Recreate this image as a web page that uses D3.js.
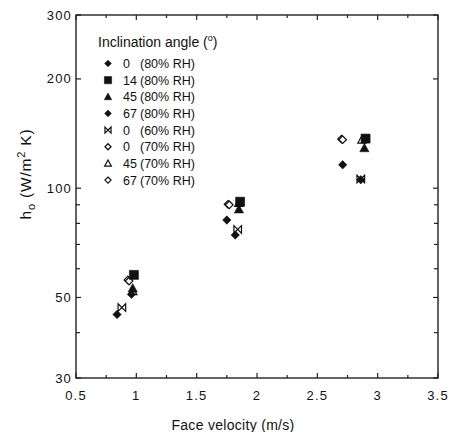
<!DOCTYPE html>
<html>
<head>
<meta charset="utf-8">
<script src="https://cdn.jsdelivr.net/npm/d3@7"></script>
<style>
  body { margin: 0; background: #fff; }
  text { font-family: "Liberation Sans", Arial, sans-serif; fill: #111; }
</style>
</head>
<body>
<div id="chart"></div>
<script>
// Data
const seriesNames = ['0', '14', '45', '67', '0', '0', '45', '67']
const seriesRH = ['(80% RH)', '(80% RH)', '(80% RH)', '(80% RH)', '(60% RH)', '(70% RH)', '(70% RH)', '(70% RH)']
const seriesMarkers = ['diamondFill', 'square', 'triangleFill', 'diamondFill', 'bowtie', 'diamondOpen', 'triangleOpen', 'diamondOpen']

const velocity = [
  [0.84, 1.82, 2.86],
  [0.98, 1.86, 2.90],
  [0.97, 1.85, 2.89],
  [0.96, 1.75, 2.71],
  [0.88, 1.84, 2.86],
  [0.93, 1.76, 2.70],
  [0.97, 1.85, 2.87],
  [0.94, 1.77, 2.71],
]
const hValues = [
  [44.9, 74.3, 105.5],
  [57.7, 91.8, 137],
  [53, 87.5, 129],
  [51, 81.7, 116],
  [46.9, 77, 106],
  [55.9, 90.3, 136.6],
  [52, 91, 136],
  [55.5, 90, 136],
]

const xTicks = [0.5, 1, 1.5, 2, 2.5, 3, 3.5]
const xMinorTicks = [0.75, 1.25, 1.75, 2.25, 2.75, 3.25]
const yTicks = [30, 50, 100, 200, 300]
const yMinorTicks = [40, 60, 70, 80, 90]

// Dimensions
const dimensions = {
  width: 458,
  height: 432,
  left: 76,
  right: 438,
  top: 15,
  bottom: 378,
}

const svg = d3.select('#chart')
  .append('svg')
  .attr('width', dimensions.width)
  .attr('height', dimensions.height)

// Scales
const xScale = d3.scaleLinear()
  .domain([0.5, 3.5])
  .range([dimensions.left, dimensions.right])

const yScale = d3.scaleLog()
  .domain([30, 300])
  .range([dimensions.bottom, dimensions.top])

// Markers
const markerShapes = {
  diamondFill: { r: 4.2, fill: true, path: r => `M0,${-r}L${r},0L0,${r}L${-r},0Z` },
  diamondOpen: { r: 3.8, fill: false, path: r => `M0,${-r}L${r},0L0,${r}L${-r},0Z` },
  square: { r: 4.5, fill: true, path: r => `M${-r},${-r}H${r}V${r}H${-r}Z` },
  triangleFill: { r: 4.6, fill: true, path: r => `M0,${-r}L${r},${r * 0.8}L${-r},${r * 0.8}Z` },
  triangleOpen: { r: 4.2, fill: false, path: r => `M0,${-r}L${r},${r * 0.8}L${-r},${r * 0.8}Z` },
  bowtie: { r: 3.8, fill: false, path: r => `M${-r},${-r}L${r},${r}V${-r}L${-r},${r}Z` },
}

function drawMarker(g, kind, scale) {
  const m = markerShapes[kind]
  g.append('path')
    .attr('d', m.path(m.r * scale))
    .attr('fill', m.fill ? '#111' : '#fff')
    .attr('stroke', '#111')
    .attr('stroke-width', m.fill ? 0.6 : 1.2)
}

// Axes (ticks inside the frame)
const axisColor = '#222'

function tickLines(values, scale, orient, len) {
  const g = svg.append('g').attr('stroke', axisColor).attr('stroke-width', 1.2)
  values.forEach(v => {
    const p = scale(v)
    if (orient === 'bottom') g.append('line').attr('x1', p).attr('x2', p).attr('y1', dimensions.bottom).attr('y2', dimensions.bottom - len)
    if (orient === 'top') g.append('line').attr('x1', p).attr('x2', p).attr('y1', dimensions.top).attr('y2', dimensions.top + len)
    if (orient === 'left') g.append('line').attr('y1', p).attr('y2', p).attr('x1', dimensions.left).attr('x2', dimensions.left + len)
    if (orient === 'right') g.append('line').attr('y1', p).attr('y2', p).attr('x1', dimensions.right).attr('x2', dimensions.right - len)
  })
}

tickLines(xTicks, xScale, 'bottom', 5)
tickLines(xMinorTicks, xScale, 'bottom', 3)
tickLines(xTicks, xScale, 'top', 5)
tickLines(xMinorTicks, xScale, 'top', 3)
tickLines(yTicks, yScale, 'left', 5)
tickLines(yMinorTicks, yScale, 'left', 4)
tickLines(yTicks, yScale, 'right', 5)
tickLines(yMinorTicks, yScale, 'right', 4)

svg.append('rect')
  .attr('x', dimensions.left)
  .attr('y', dimensions.top)
  .attr('width', dimensions.right - dimensions.left)
  .attr('height', dimensions.bottom - dimensions.top)
  .attr('fill', 'none')
  .attr('stroke', axisColor)
  .attr('stroke-width', 1.4)

// Tick labels
svg.append('g')
  .selectAll('text')
  .data(xTicks)
  .join('text')
  .attr('x', d => xScale(d))
  .attr('y', 400)
  .attr('text-anchor', 'middle')
  .attr('font-size', 13)
  .attr('letter-spacing', 1.2)
  .text(d => d)

svg.append('g')
  .selectAll('text')
  .data(yTicks)
  .join('text')
  .attr('x', 72)
  .attr('y', d => yScale(d) + 4.5)
  .attr('text-anchor', 'end')
  .attr('font-size', 13)
  .attr('letter-spacing', 1.2)
  .text(d => d)

// Axis titles
svg.append('text')
  .attr('x', 233)
  .attr('y', 430)
  .attr('text-anchor', 'middle')
  .attr('font-size', 14)
  .attr('letter-spacing', 0.3)
  .text('Face velocity (m/s)')

const yTitle = svg.append('text')
  .attr('transform', 'translate(31, 174) rotate(-90)')
  .attr('text-anchor', 'middle')
  .attr('font-size', 15.5)
  .attr('letter-spacing', 0.8)
yTitle.append('tspan').text('h')
yTitle.append('tspan').attr('font-size', 11).attr('dy', 4).text('o')
yTitle.append('tspan').attr('dy', -4).text(' (W/m')
yTitle.append('tspan').attr('font-size', 11).attr('dy', -6).text('2')
yTitle.append('tspan').attr('dy', 6).text(' K)')

// Points (open markers below filled ones)
const drawOrder = [5, 7, 6, 4, 0, 3, 2, 1]
drawOrder.forEach(i => {
  velocity[i].forEach((v, j) => {
    const g = svg.append('g')
      .attr('transform', `translate(${xScale(v)}, ${yScale(hValues[i][j])})`)
    drawMarker(g, seriesMarkers[i], 1)
  })
})

// Legend
const legendTitle = svg.append('text')
  .attr('x', 98)
  .attr('y', 47)
  .attr('font-size', 14)
legendTitle.append('tspan').text('Inclination angle (')
legendTitle.append('tspan').attr('font-size', 9).attr('dy', -6).text('o')
legendTitle.append('tspan').attr('dy', 6).text(')')

seriesNames.forEach((name, i) => {
  const cy = 63.5 + i * 16.65
  const g = svg.append('g').attr('transform', `translate(108, ${cy})`)
  drawMarker(g, seriesMarkers[i], 0.8)
  svg.append('text')
    .attr('x', 123)
    .attr('y', cy + 4.5)
    .attr('font-size', 12.5)
    .text(name)
  svg.append('text')
    .attr('x', 140)
    .attr('y', cy + 4.5)
    .attr('font-size', 12.5)
    .text(seriesRH[i])
})
</script>
</body>
</html>
